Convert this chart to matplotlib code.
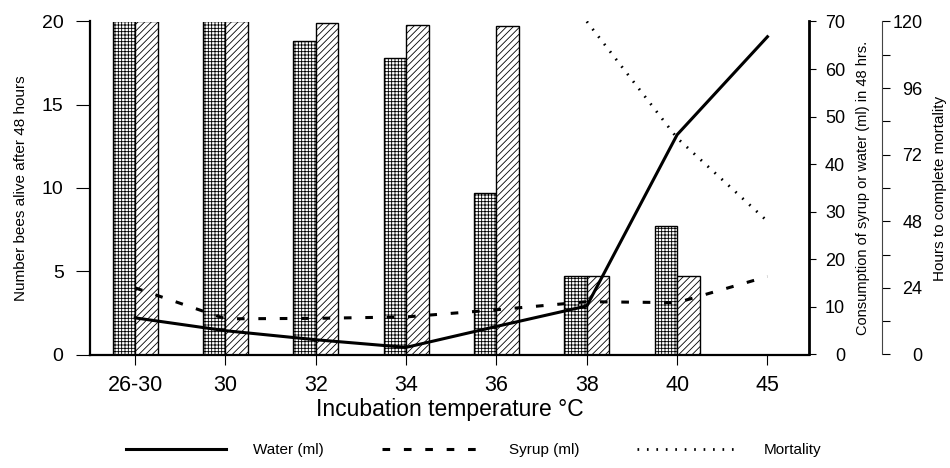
import numpy as np
import matplotlib
matplotlib.use("Agg")
import matplotlib.pyplot as plt

plt.rcParams['font.family'] = ['Liberation Sans', 'DejaVu Sans']
plt.rcParams['hatch.linewidth'] = 0.6

# categories (incubation temperature)
temps = ['26-30', '30', '32', '34', '36', '38', '40', '45']

# bees alive after 48 h (left axis) - two bar series, none at 45
alive_grid = [20, 20, 18.8, 17.8, 9.7, 4.7, 7.7]
alive_hatch = [20, 20, 19.9, 19.8, 19.7, 4.7, 4.7]

# consumption in ml (middle right axis)
water = [7.7, 5.0, 3.1, 1.5, 5.9, 10.2, 46.2, 66.8]
syrup = [14.0, 7.5, 7.6, 7.9, 9.4, 11.1, 10.9, 16.4]

# hours to complete mortality (outer right axis), only 38..45
mort_temps = ['38', '40', '45']
mortality = [120, 78, 48]

W, H = 950, 468
fig = plt.figure(figsize=(W / 100, H / 100), dpi=100)
ax = fig.add_axes([90 / W, 1 - 354.5 / H, 719 / W, 333 / H])

x = np.arange(len(temps))
w = 0.25
nb = len(alive_grid)
ax.bar(x[:nb] - w / 2, alive_grid, w, facecolor='white', edgecolor='black',
       hatch='+++++', linewidth=1.0, zorder=2)
ax.bar(x[:nb] + w / 2, alive_hatch, w, facecolor='white', edgecolor='black',
       hatch='/////', linewidth=1.0, zorder=2)

ax.set_xlim(-0.5, 7.46)
ax.set_ylim(0, 20)
ax.set_yticks([0, 5, 10, 15, 20])
ax.set_xticks(x)
ax.set_xticklabels(temps, fontsize=15.5)
ax.tick_params(axis='x', direction='out', length=7, width=0.8, pad=8)
ax.tick_params(axis='y', direction='out', length=10, width=0.8, pad=9, labelsize=14)
for s in ['top', 'right']:
    ax.spines[s].set_visible(False)
ax.spines['left'].set_linewidth(1.6)
ax.spines['bottom'].set_linewidth(1.6)
ax.set_ylabel('Number bees alive after 48 hours', fontsize=11, labelpad=10)
ax.set_xlabel('Incubation temperature °C', fontsize=16.5, labelpad=1)

# consumption axis
ax2 = ax.twinx()
ax2.set_ylim(0, 70)
ax2.set_yticks(range(0, 71, 10))
for s in ['top', 'left', 'bottom']:
    ax2.spines[s].set_visible(False)
ax2.spines['right'].set_linewidth(2.0)
ax2.tick_params(axis='y', direction='out', length=5, width=0.8, pad=21, labelsize=13)
for lab in ax2.get_yticklabels():
    lab.set_horizontalalignment('right')
ax2.set_ylabel('Consumption of syrup or water (ml) in 48 hrs.', fontsize=10.5, labelpad=8)

lw_water, = ax2.plot(x, water, color='black', lw=2.2, zorder=5)
lw_syrup, = ax2.plot(x, syrup, color='black', lw=2.2, linestyle=(0, (2.5, 4.5)), zorder=5)

# mortality axis
ax3 = ax.twinx()
ax3.set_ylim(0, 120)
ax3.set_yticks(range(0, 121, 24))
ax3.set_yticks(range(12, 120, 24), minor=True)
ax3.spines['right'].set_position(('axes', 792 / 719))
for s in ['top', 'left', 'bottom']:
    ax3.spines[s].set_visible(False)
ax3.spines['right'].set_linewidth(0.8)
ax3.spines['right'].set_color('#444444')
ax3.tick_params(axis='y', which='both', direction='out', length=6, width=0.8,
                pad=23, labelsize=13)
for lab in ax3.get_yticklabels():
    lab.set_horizontalalignment('right')
ax3.set_ylabel('Hours to complete mortality', fontsize=11, labelpad=8)

mx = [temps.index(t) for t in mort_temps]
lw_mort, = ax3.plot(mx, mortality, color='black', lw=2.0, linestyle=(0, (0.6, 2.8)), zorder=5)

fig.legend([lw_water, lw_syrup, lw_mort], ['Water (ml)', 'Syrup (ml)', 'Mortality'],
           loc='center', bbox_to_anchor=(474 / W, 1 - 450 / H), ncol=3,
           frameon=False, fontsize=11, handlelength=6.5, handletextpad=1.8,
           columnspacing=3.8)

fig.savefig('out.png', dpi=100)
